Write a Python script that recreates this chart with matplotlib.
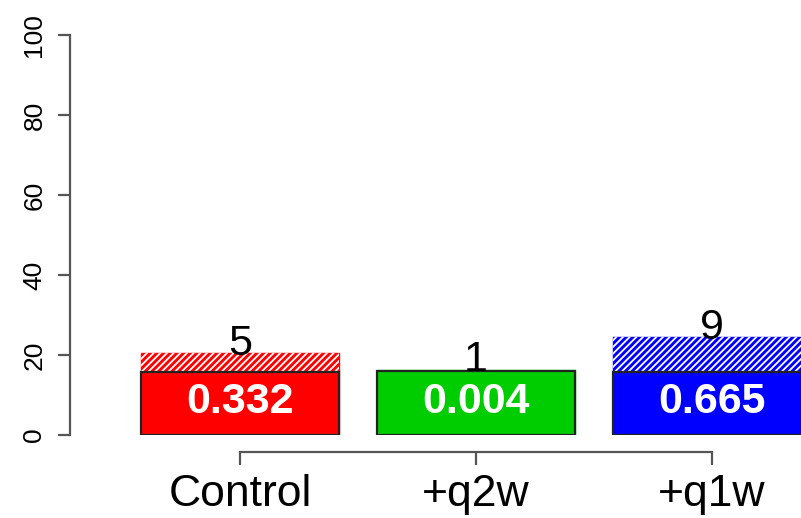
import matplotlib

matplotlib.use("Agg")
import matplotlib.pyplot as plt

groups = ["Control", "+q2w", "+q1w"]
colors = ["#FF0000", "#00CD00", "#0000FF"]
totals = [20.4, 16.3, 24.4]        # full bar height (hatched top)
solid = [15.75, 15.9, 15.75]       # solid lower part
counts = ["5", "1", "9"]
fractions = ["0.332", "0.004", "0.665"]
yticks = [0, 20, 40, 60, 80, 100]

plt.rcParams["font.family"] = ["Liberation Sans", "DejaVu Sans"]
plt.rcParams["hatch.linewidth"] = 1.3

fig = plt.figure(figsize=(8.01, 5.18), dpi=100)
ax = fig.add_axes([70 / 801, 83 / 518, 731 / 801, 400 / 518])

x = list(range(len(groups)))
w = 0.84
# hatched top portion
ax.bar(x, totals, width=w, color=colors, edgecolor=colors, linewidth=1.0)
ax.bar(x, totals, width=w, facecolor="none", edgecolor="white", hatch="/////", linewidth=0)
# solid lower portion
ax.bar(x, solid, width=w, color=colors, edgecolor="#222222", linewidth=1.6)

for xi, t, c in zip(x, totals, counts):
    ax.text(xi, t - 0.3, c, ha="center", va="baseline", fontsize=31, color="black")
for xi, s, f in zip(x, solid, fractions):
    ax.text(xi, s / 2 + 0.3, f, ha="center", va="center", fontsize=31,
            fontweight="bold", color="white")

# spines first: set_position resets the tick settings
for side in ("top", "right"):
    ax.spines[side].set_visible(False)
ax.spines["bottom"].set_position(("outward", 12))
ax.spines["bottom"].set_bounds(0, 2)
ax.spines["left"].set_bounds(0, 100)
for side in ("bottom", "left"):
    ax.spines[side].set_color("#555555")
    ax.spines[side].set_linewidth(1.6)

ax.set_xlim(-0.72, 2.377)
ax.set_ylim(0, 100)
ax.set_xticks(x)
ax.set_xticklabels(groups, fontsize=32)
ax.set_yticks(yticks)
ax.set_yticklabels([str(v) for v in yticks], fontsize=19, rotation=90, va="center")
ax.tick_params(axis="both", length=9, width=1.6, color="#555555")
ax.tick_params(axis="x", pad=7)
ax.tick_params(axis="y", pad=8)

fig.savefig("out.png", dpi=100)
